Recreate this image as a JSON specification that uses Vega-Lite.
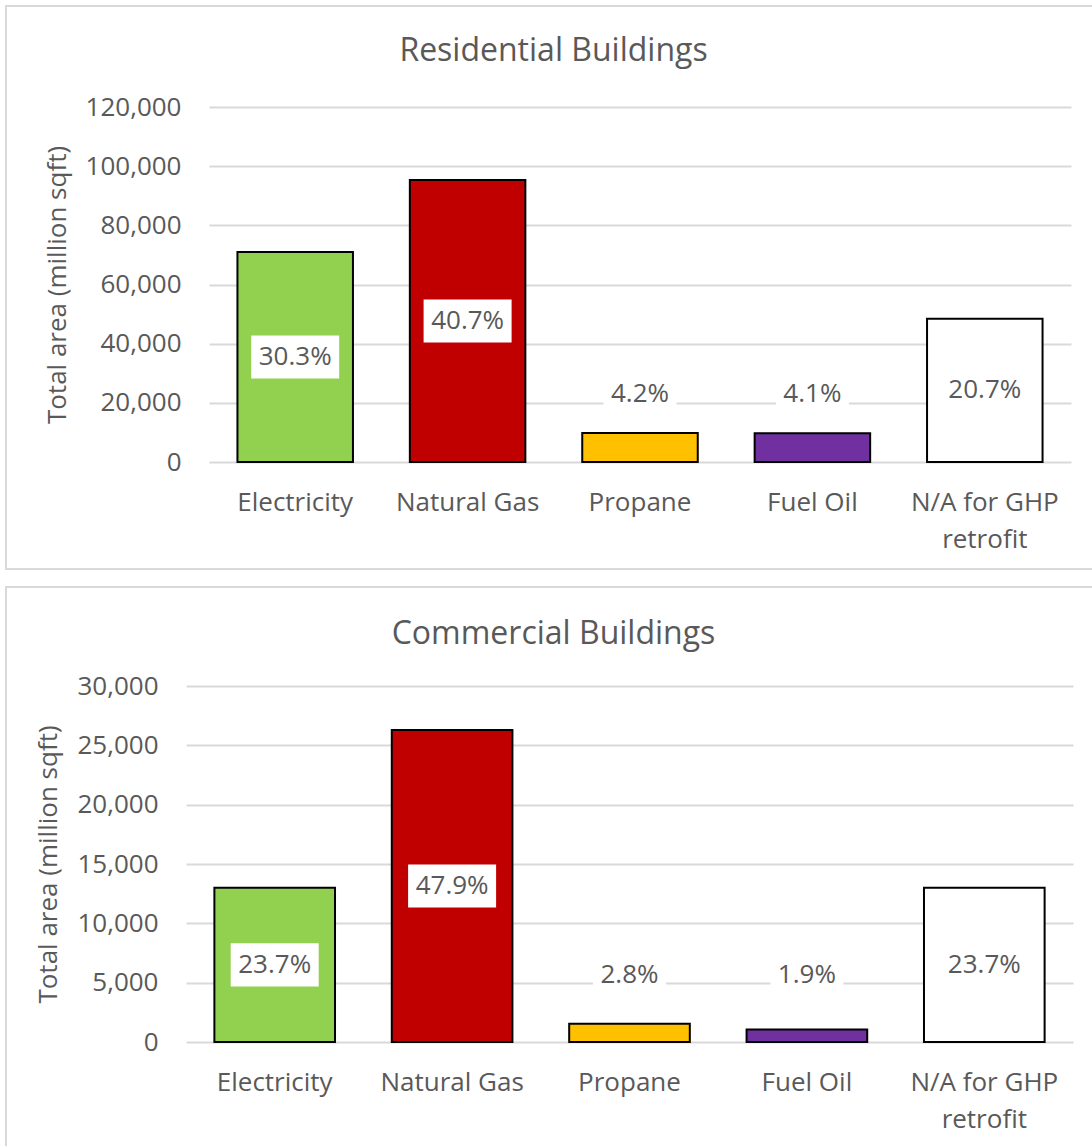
{
  "$schema": "https://vega.github.io/schema/vega-lite/v6.json",
  "background": "white",
  "padding": {"left": 5, "top": 5, "right": 0, "bottom": 0},
  "datasets": {
    "res": [
      {"source": "Electricity", "area": 71000, "pct": "30.3%"},
      {"source": "Natural Gas", "area": 95300, "pct": "40.7%"},
      {"source": "Propane", "area": 9800, "pct": "4.2%"},
      {"source": "Fuel Oil", "area": 9700, "pct": "4.1%"},
      {"source": "N/A for GHP retrofit", "area": 48400, "pct": "20.7%"}
    ],
    "com": [
      {"source": "Electricity", "area": 13000, "pct": "23.7%"},
      {"source": "Natural Gas", "area": 26300, "pct": "47.9%"},
      {"source": "Propane", "area": 1540, "pct": "2.8%"},
      {"source": "Fuel Oil", "area": 1050, "pct": "1.9%"},
      {"source": "N/A for GHP retrofit", "area": 13000, "pct": "23.7%"}
    ]
  },
  "spacing": 16,
  "vconcat": [
    {
      "title": {"text": "Residential Buildings", "offset": -62},
      "width": 1095,
      "height": 563,
      "data": {"name": "res"},
      "transform": [
        {"calculate": "datum.area / 2 < 18000 ? 23000 : datum.area / 2", "as": "labelPos"}
      ],
      "encoding": {
        "x": {
          "field": "source", "type": "nominal", "sort": null,
          "scale": {"range": [203, 1065], "paddingInner": 0.33, "paddingOuter": 0.165},
          "axis": {
            "title": null, "labelAngle": 0, "domain": false, "ticks": false, "tickSize": 0, "offset": -107,
            "labelPadding": 27, "labelLineHeight": 37, "labelBaseline": "top",
            "labelExpr": "datum.label == 'N/A for GHP retrofit' ? ['N/A for GHP', 'retrofit'] : datum.label"
          }
        }
      },
      "layer": [
        {
          "mark": {"type": "bar", "stroke": "black", "strokeWidth": 2},
          "encoding": {
            "y": {
              "field": "area", "type": "quantitative",
              "scale": {"domain": [0, 120000], "nice": false, "range": [456, 101]},
              "axis": {"title": "Total area (million sqft)", "offset": -203, "values": [0, 20000, 40000, 60000, 80000, 100000, 120000], "format": ",.0f"}
            },
            "color": {
              "field": "source", "type": "nominal", "legend": null,
              "scale": {
                "domain": ["Electricity", "Natural Gas", "Propane", "Fuel Oil", "N/A for GHP retrofit"],
                "range": ["#92D050", "#C00000", "#FFC000", "#7030A0", "#FFFFFF"]
              }
            }
          }
        },
        {
          "mark": {"type": "point", "filled": true, "fill": "white", "strokeWidth": 0, "opacity": 1},
          "encoding": {
            "y": {"field": "labelPos", "type": "quantitative"},
            "shape": {"condition": {"test": "length(datum.pct) > 4", "value": "M-1,-0.49H1V0.49H-1Z"}, "value": "M-1,-0.59H1V0.59H-1Z"},
            "size": {"condition": {"test": "length(datum.pct) > 4", "value": 7744}, "value": 5329}
          }
        },
        {
          "mark": {"type": "text", "fontSize": 26, "color": "#595959", "font": "Open Sans"},
          "encoding": {
            "y": {"field": "labelPos", "type": "quantitative"},
            "text": {"field": "pct"}
          }
        }
      ]
    },
    {
      "title": {"text": "Commercial Buildings", "offset": -64},
      "width": 1095,
      "height": 565,
      "data": {"name": "com"},
      "transform": [
        {"calculate": "datum.area / 2 < 4500 ? 5650 : datum.area / 2", "as": "labelPos"}
      ],
      "encoding": {
        "x": {
          "field": "source", "type": "nominal", "sort": null,
          "scale": {"range": [180, 1067], "paddingInner": 0.32, "paddingOuter": 0.16},
          "axis": {
            "title": null, "labelAngle": 0, "domain": false, "ticks": false, "tickSize": 0, "offset": -110,
            "labelPadding": 27, "labelLineHeight": 37, "labelBaseline": "top",
            "labelExpr": "datum.label == 'N/A for GHP retrofit' ? ['N/A for GHP', 'retrofit'] : datum.label"
          }
        }
      },
      "layer": [
        {
          "mark": {"type": "bar", "stroke": "black", "strokeWidth": 2},
          "encoding": {
            "y": {
              "field": "area", "type": "quantitative",
              "scale": {"domain": [0, 30000], "nice": false, "range": [455, 99]},
              "axis": {"title": "Total area (million sqft)", "offset": -180, "values": [0, 5000, 10000, 15000, 20000, 25000, 30000], "format": ",.0f"}
            },
            "color": {
              "field": "source", "type": "nominal", "legend": null,
              "scale": {
                "domain": ["Electricity", "Natural Gas", "Propane", "Fuel Oil", "N/A for GHP retrofit"],
                "range": ["#92D050", "#C00000", "#FFC000", "#7030A0", "#FFFFFF"]
              }
            }
          }
        },
        {
          "mark": {"type": "point", "filled": true, "fill": "white", "strokeWidth": 0, "opacity": 1},
          "encoding": {
            "y": {"field": "labelPos", "type": "quantitative"},
            "shape": {"condition": {"test": "length(datum.pct) > 4", "value": "M-1,-0.49H1V0.49H-1Z"}, "value": "M-1,-0.59H1V0.59H-1Z"},
            "size": {"condition": {"test": "length(datum.pct) > 4", "value": 7744}, "value": 5329}
          }
        },
        {
          "mark": {"type": "text", "fontSize": 26, "color": "#595959", "font": "Open Sans"},
          "encoding": {
            "y": {"field": "labelPos", "type": "quantitative"},
            "text": {"field": "pct"}
          }
        }
      ]
    }
  ],
  "config": {
    "view": {"stroke": "#D9D9D9", "strokeWidth": 2},
    "font": "Open Sans",
    "axis": {
      "labelFont": "Open Sans", "labelFontSize": 26, "labelColor": "#595959",
      "titleFont": "Open Sans", "titleFontSize": 26, "titleColor": "#595959", "titleFontWeight": "normal"
    },
    "axisY": {
      "grid": true, "gridColor": "#D9D9D9", "gridWidth": 2, "domain": false, "ticks": false, "tickSize": 0,
      "labelPadding": 28, "titlePadding": 15
    },
    "axisX": {"grid": false},
    "title": {
      "font": "Open Sans", "fontSize": 32, "fontWeight": "normal", "color": "#595959",
      "anchor": "middle", "frame": "bounds", "baseline": "alphabetic"
    }
  }
}
